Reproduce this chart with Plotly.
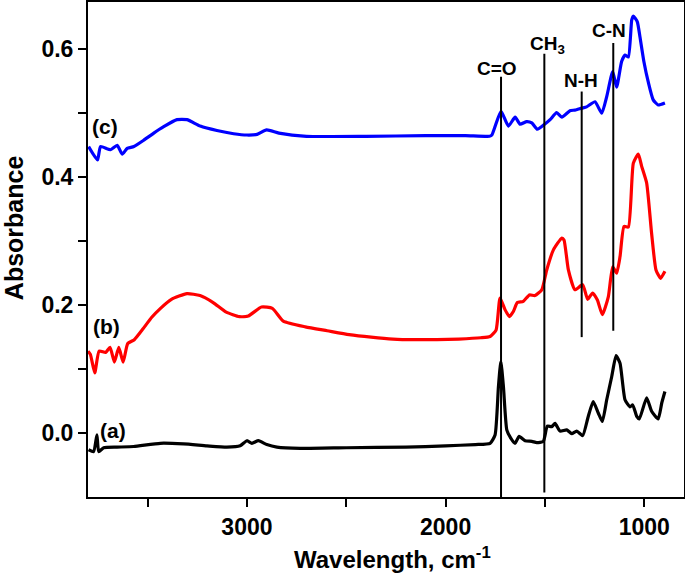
import plotly.graph_objects as go

# ---- data ----
wn_a = [3797, 3772, 3755, 3746, 3721, 3654, 3570, 3436, 3319, 3201, 3101, 3034, 3000, 2975, 2942, 2900, 2849,
        2732, 2500, 2200, 2000, 1850, 1776, 1751, 1734, 1722, 1709, 1692, 1672, 1650, 1630, 1600, 1566, 1541,
        1508, 1488, 1466, 1449, 1424, 1390, 1365, 1340, 1310, 1282, 1257, 1231, 1211, 1189, 1164, 1142, 1122,
        1097, 1072, 1058, 1038, 1025, 988, 963, 930, 912, 896]
abs_a = [-0.026, -0.029, -0.003, -0.029, -0.023, -0.022, -0.021, -0.016, -0.017, -0.020, -0.022, -0.020, -0.012,
         -0.016, -0.012, -0.018, -0.022, -0.024, -0.023, -0.022, -0.020, -0.018, -0.016, -0.003, 0.073, 0.112,
         0.073, 0.005, -0.008, -0.016, -0.005, -0.012, -0.013, -0.015, -0.013, 0.011, 0.010, 0.015, 0.003, 0.005,
         -0.001, 0.003, -0.004, 0.026, 0.049, 0.031, 0.018, 0.052, 0.088, 0.121, 0.109, 0.052, 0.041, 0.044,
         0.026, 0.022, 0.055, 0.034, 0.022, 0.047, 0.065]

wn_b = [3800, 3788, 3766, 3744, 3711, 3689, 3667, 3645, 3623, 3600, 3567, 3523, 3479, 3435, 3380, 3302, 3236,
        3170, 3104, 3038, 2993, 2927, 2872, 2817, 2706, 2596, 2486, 2375, 2265, 2154, 2044, 1934, 1823, 1776,
        1746, 1726, 1701, 1679, 1659, 1639, 1609, 1578, 1550, 1516, 1491, 1458, 1415, 1404, 1382, 1349, 1310,
        1285, 1260, 1236, 1211, 1181, 1159, 1139, 1122, 1102, 1080, 1055, 1030, 1013, 988, 963, 941, 918, 896]
abs_b = [0.128, 0.123, 0.094, 0.128, 0.126, 0.134, 0.111, 0.134, 0.111, 0.140, 0.146, 0.163, 0.181, 0.195,
         0.209, 0.218, 0.215, 0.204, 0.189, 0.182, 0.183, 0.197, 0.195, 0.175, 0.166, 0.160, 0.154, 0.150,
         0.147, 0.146, 0.146, 0.147, 0.149, 0.151, 0.161, 0.211, 0.193, 0.182, 0.190, 0.204, 0.206, 0.216,
         0.215, 0.224, 0.255, 0.286, 0.305, 0.302, 0.255, 0.224, 0.232, 0.209, 0.219, 0.208, 0.185, 0.213,
         0.260, 0.250, 0.276, 0.323, 0.322, 0.422, 0.436, 0.417, 0.391, 0.312, 0.255, 0.242, 0.253]

wn_c = [3797, 3752, 3737, 3687, 3653, 3628, 3603, 3569, 3519, 3469, 3419, 3352, 3302, 3235, 3151, 3067, 3000,
        2949, 2901, 2839, 2700, 2400, 2100, 1900, 1779, 1767, 1721, 1684, 1650, 1625, 1592, 1566, 1538, 1505,
        1474, 1441, 1415, 1374, 1349, 1315, 1290, 1248, 1214, 1189, 1159, 1139, 1114, 1097, 1080, 1063, 1055,
        1035, 1022, 1002, 980, 955, 930, 896]
abs_c = [0.448, 0.427, 0.448, 0.443, 0.450, 0.436, 0.445, 0.448, 0.458, 0.469, 0.479, 0.490, 0.490, 0.480,
         0.473, 0.468, 0.466, 0.467, 0.474, 0.469, 0.464, 0.464, 0.465, 0.465, 0.464, 0.466, 0.503, 0.480,
         0.494, 0.483, 0.487, 0.485, 0.475, 0.482, 0.490, 0.501, 0.494, 0.504, 0.505, 0.508, 0.510, 0.518,
         0.500, 0.526, 0.565, 0.541, 0.581, 0.591, 0.588, 0.646, 0.652, 0.643, 0.620, 0.581, 0.549, 0.521,
         0.513, 0.516]

series_names = ["(a)", "(b)", "(c)"]
series_colors = ["#000000", "#ff0000", "#0000ff"]

# band marker lines: position, bottom, top, label
band_labels = ["C=O", "CH<sub>3</sub>", "N-H", "C-N"]
band_pos = [1721, 1503, 1315, 1156]
band_bottom = [-0.1, -0.093, 0.150, 0.160]
band_top = [0.557, 0.593, 0.534, 0.610]
band_label_x = [1742, 1489, 1318, 1180]
band_label_y = [0.570, 0.607, 0.551, 0.629]

curve_label_x = [3672, 3705, 3715]
curve_label_y = [0.004, 0.166, 0.479]

FONT = "Liberation Sans, Arial, sans-serif"

fig = go.Figure()
for wn, ab, col, nm in zip([wn_a, wn_b, wn_c], [abs_a, abs_b, abs_c], series_colors, series_names):
    fig.add_trace(go.Scatter(x=wn, y=ab, mode="lines", name=nm,
                             line=dict(color=col, width=3.2, shape="spline", smoothing=0.5)))

for p, b, t in zip(band_pos, band_bottom, band_top):
    fig.add_trace(go.Scatter(x=[p, p], y=[b, t], mode="lines",
                             line=dict(color="black", width=2), showlegend=False))

annotations = []
for lbl, lx, ly in zip(band_labels, band_label_x, band_label_y):
    annotations.append(dict(x=lx, y=ly, xref="x", yref="y", text="<b>%s</b>" % lbl, showarrow=False,
                            font=dict(family=FONT, size=19, color="black")))
for lbl, lx, ly in zip(series_names, curve_label_x, curve_label_y):
    annotations.append(dict(x=lx, y=ly, xref="x", yref="y", text="<b>%s</b>" % lbl, showarrow=False,
                            font=dict(family=FONT, size=21, color="black")))

annotations.append(dict(x=-0.152, y=0.544, xref="paper", yref="paper", text="<b>Absorbance</b>",
                        textangle=-90, showarrow=False, font=dict(family=FONT, size=25, color="black")))
annotations.append(dict(x=0.511, y=-0.158, xref="paper", yref="paper",
                        text="<b>Wavelength, cm<sup>-1</sup></b>", showarrow=False,
                        font=dict(family=FONT, size=24, color="black")))

axis_common = dict(showline=True, linecolor="black", linewidth=2, mirror=True, ticks="outside",
                   ticklen=8, tickwidth=2, tickcolor="black", showgrid=False, zeroline=False,
                   automargin=False,
                   tickfont=dict(family=FONT, size=23, color="black"))

fig.update_layout(
    width=685, height=579,
    margin=dict(l=88, r=1, t=2, b=82, autoexpand=False),
    paper_bgcolor="white", plot_bgcolor="white",
    showlegend=False,
    annotations=annotations,
    xaxis=dict(range=[3800, 800], tickvals=[3000, 2000, 1000], ticktext=["<b>3000</b>", "<b>2000</b>", "<b>1000</b>"],
               minor=dict(tickvals=[3500, 2500, 1500], ticks="outside", ticklen=8, tickwidth=2, tickcolor="black"),
               **axis_common),
    yaxis=dict(range=[-0.1, 0.674], tickvals=[0.0, 0.2, 0.4, 0.6], ticktext=["<b>0.0</b>", "<b>0.2</b>", "<b>0.4</b>", "<b>0.6</b>"],
               minor=dict(tickvals=[0.1, 0.3, 0.5], ticks="outside", ticklen=8, tickwidth=2, tickcolor="black"),
               **axis_common),
)

fig.write_html("out.html", config={"displayModeBar": False},
               post_script="document.body.style.margin='0px';document.body.style.overflow='hidden';")
